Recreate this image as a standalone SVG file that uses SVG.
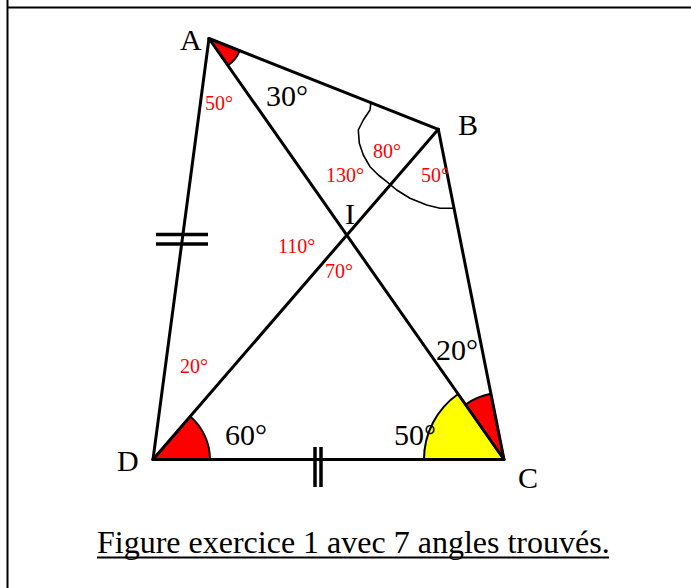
<svg xmlns="http://www.w3.org/2000/svg" width="691" height="588" viewBox="0 0 691 588">
<style>
.big{font-family:"Liberation Serif","Times New Roman",serif;font-size:30px;fill:#000}
.red{font-family:"Liberation Serif","Times New Roman",serif;font-size:20px;fill:#ff0000}
.cap{font-family:"Liberation Serif","Times New Roman",serif;font-size:32px;fill:#000}
.seg{stroke:#000;stroke-width:3;fill:none;stroke-linecap:round}
.sector{stroke:#000;stroke-width:2;stroke-linejoin:round}
.tick{stroke:#000;stroke-width:3.5;fill:none}
</style>
<rect x="0" y="0" width="691" height="588" fill="#fff"/>
<g id="frame">
<line x1="7.5" y1="0" x2="7.5" y2="588" stroke="#000" stroke-width="2"/>
<line x1="7" y1="7.5" x2="691" y2="7.5" stroke="#000" stroke-width="2"/>
</g>
<g id="angle-marks">
<path class="sector" fill="#ff0000" d="M209,38.5 L239.7,50.6 A33,33 0 0 1 227.9,65.5 Z"/>
<path class="sector" fill="#ff0000" d="M153,459.5 L210,459.5 A57,57 0 0 0 190.3,416.4 Z"/>
<path class="sector" fill="#ffff00" d="M504,459.5 L424,459.5 A80,80 0 0 1 458.1,394 Z"/>
<path class="sector" fill="#ff0000" d="M504,459.5 L465.5,404.6 A67,67 0 0 1 490.9,393.8 Z"/>
<path d="M371,101.7 L370,110 L363.3,120 L358.3,130 L359.3,143.3 L363.3,155 L370,166.7 L378.3,175 L386.7,181.7 L396.7,190 L410,198.3 L426.7,205 L440,208.3 L453.3,208.3" fill="none" stroke="#000" stroke-width="1.6" stroke-linejoin="round"/>
</g>
<g id="connectors">
<line id="AB" class="seg" x1="209" y1="38.5" x2="438.3" y2="129.3"/>
<line id="BC" class="seg" x1="438.3" y1="129.3" x2="504" y2="459.5"/>
<line id="CD" class="seg" x1="504" y1="459.5" x2="153" y2="459.5"/>
<line id="DA" class="seg" x1="153" y1="459.5" x2="209" y2="38.5"/>
<line id="AC" class="seg" x1="209" y1="38.5" x2="504" y2="459.5"/>
<line id="BD" class="seg" x1="438.3" y1="129.3" x2="153" y2="459.5"/>
</g>
<g id="ticks">
<line class="tick" x1="156" y1="234.5" x2="208" y2="234.5"/>
<line class="tick" x1="156" y1="244" x2="208" y2="244"/>
<line class="tick" x1="315" y1="447" x2="315" y2="487"/>
<line class="tick" x1="321" y1="447" x2="321" y2="487"/>
</g>
<g id="node-A"><text class="big" x="180" y="50">A</text></g>
<g id="node-B"><text class="big" x="458" y="135">B</text></g>
<g id="node-I"><text class="big" x="345" y="224">I</text></g>
<g id="node-D"><text class="big" x="117" y="471">D</text></g>
<g id="node-C"><text class="big" x="518" y="488">C</text></g>
<g id="labels">
<text class="big" x="266" y="106">30°</text>
<text class="big" x="436" y="360">20°</text>
<text class="big" x="225" y="445">60°</text>
<text class="big" x="394" y="445">50°</text>
<text class="red" x="205" y="110">50°</text>
<text class="red" x="373" y="158">80°</text>
<text class="red" x="326" y="182">130°</text>
<text class="red" x="421" y="182">50°</text>
<text class="red" x="278" y="253">110°</text>
<text class="red" x="325" y="278">70°</text>
<text class="red" x="180" y="373">20°</text>
</g>
<g id="caption">
<text class="cap" x="97" y="553">Figure exercice 1 avec 7 angles trouvés.</text>
<line x1="97" y1="557.5" x2="609" y2="557.5" stroke="#000" stroke-width="2"/>
</g>
</svg>
